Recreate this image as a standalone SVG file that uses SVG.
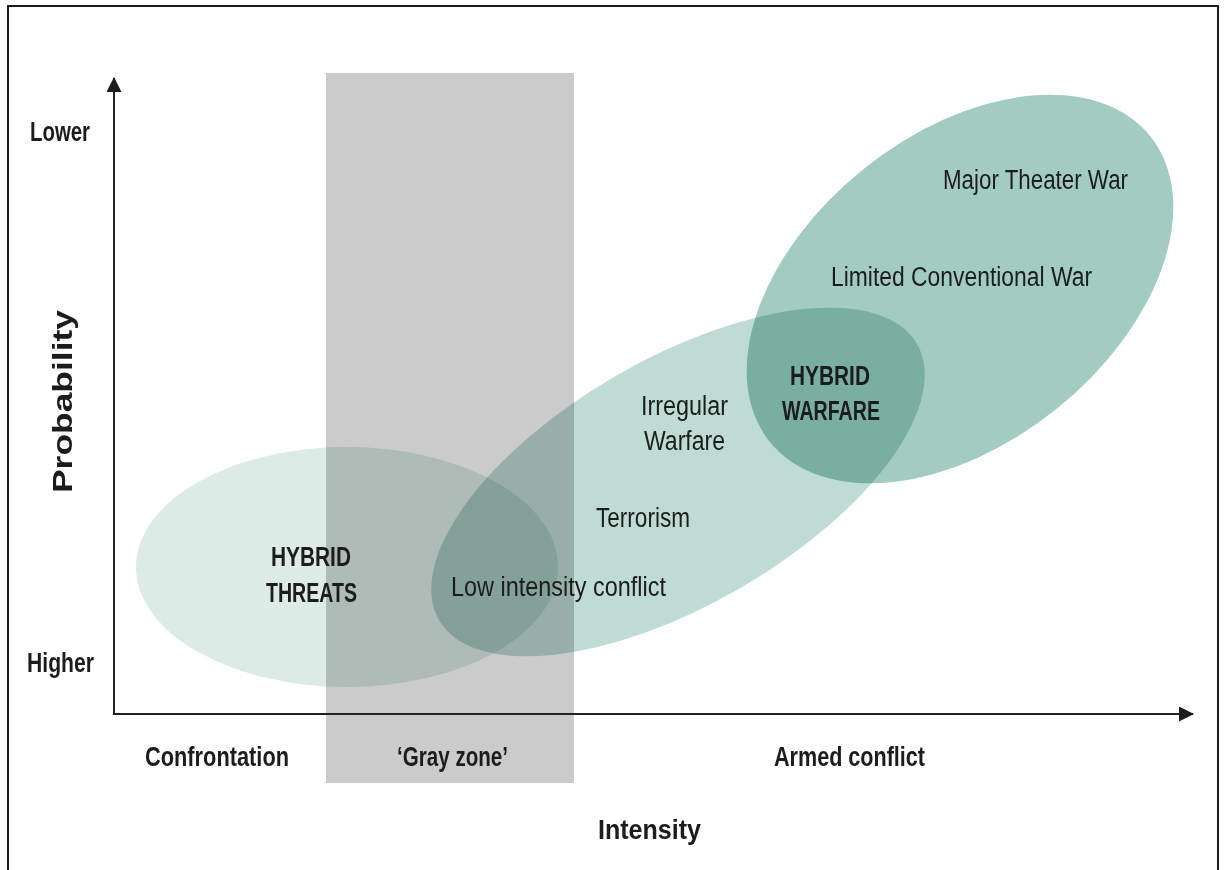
<svg xmlns="http://www.w3.org/2000/svg" width="1224" height="870" viewBox="0 0 1224 870">
<style>
.t{font-family:"Liberation Sans",Arial,sans-serif;fill:#1c1c1c;font-size:27px}
.b{font-weight:700}
.m{mix-blend-mode:multiply}
.ax{stroke:#222;stroke-width:2;fill:none}
</style>
<defs>
<marker id="ah" markerWidth="16" markerHeight="16" refX="14" refY="7.5" orient="auto" markerUnits="userSpaceOnUse">
<path d="M0,0 L15,7.5 L0,15 Z" fill="#1c1c1c"/>
</marker>
</defs>
<rect x="0" y="0" width="1224" height="870" fill="#ffffff"/>
<rect x="8" y="6" width="1210" height="880" fill="none" stroke="#1c1c1c" stroke-width="2"/>
<g id="gray-zone-band">
<rect x="326" y="73" width="248" height="710" fill="#cbcbcb"/>
</g>
<g id="hybrid-threats">
<ellipse class="m" cx="347" cy="567" rx="211" ry="120" fill="#dcebe6"/>
</g>
<g id="irregular-band">
<ellipse class="m" cx="678" cy="482" rx="276" ry="123" transform="rotate(-30 678 482)" fill="#bfdcd4"/>
</g>
<g id="conventional-war">
<ellipse class="m" cx="960" cy="289" rx="244" ry="154" transform="rotate(-38.75 960 289)" fill="#a2cbc2"/>
</g>
<g id="connectors">
<line class="ax" x1="114" y1="714" x2="114" y2="78" marker-end="url(#ah)"/>
<line class="ax" x1="113" y1="714" x2="1193" y2="714" marker-end="url(#ah)"/>
</g>
<g id="axis-labels">
<text class="t b" x="30" y="141" font-size="26" textLength="60" lengthAdjust="spacingAndGlyphs">Lower</text>
<text class="t b" x="27" y="672" font-size="26" textLength="67" lengthAdjust="spacingAndGlyphs">Higher</text>
<text class="t b" x="0" y="0" font-size="28" textLength="183" lengthAdjust="spacingAndGlyphs" transform="translate(72 493) rotate(-90)">Probability</text>
<text class="t b" x="145" y="766" font-size="27" textLength="144" lengthAdjust="spacingAndGlyphs">Confrontation</text>
<text class="t b" x="397" y="766" font-size="27" textLength="111" lengthAdjust="spacingAndGlyphs">‘Gray zone’</text>
<text class="t b" x="774" y="766" font-size="27" textLength="151" lengthAdjust="spacingAndGlyphs">Armed conflict</text>
<text class="t b" x="598" y="839" font-size="32" textLength="103" lengthAdjust="spacingAndGlyphs">Intensity</text>
</g>
<g id="label-major-theater-war">
<text class="t" x="943" y="189" textLength="185" lengthAdjust="spacingAndGlyphs">Major Theater War</text>
</g>
<g id="label-limited-conventional-war">
<text class="t" x="831" y="286" textLength="261" lengthAdjust="spacingAndGlyphs">Limited Conventional War</text>
</g>
<g id="label-hybrid-warfare">
<text class="t b" x="790" y="385" textLength="80" lengthAdjust="spacingAndGlyphs">HYBRID</text>
<text class="t b" x="782" y="420" textLength="98" lengthAdjust="spacingAndGlyphs">WARFARE</text>
</g>
<g id="label-irregular-warfare">
<text class="t" x="641" y="415" textLength="87" lengthAdjust="spacingAndGlyphs">Irregular</text>
<text class="t" x="644" y="450" textLength="81" lengthAdjust="spacingAndGlyphs">Warfare</text>
</g>
<g id="label-terrorism">
<text class="t" x="596" y="527" textLength="94" lengthAdjust="spacingAndGlyphs">Terrorism</text>
</g>
<g id="label-low-intensity-conflict">
<text class="t" x="451" y="596" textLength="215" lengthAdjust="spacingAndGlyphs">Low intensity conflict</text>
</g>
<g id="label-hybrid-threats">
<text class="t b" x="271" y="566" textLength="80" lengthAdjust="spacingAndGlyphs">HYBRID</text>
<text class="t b" x="266" y="602" textLength="91" lengthAdjust="spacingAndGlyphs">THREATS</text>
</g>
</svg>
